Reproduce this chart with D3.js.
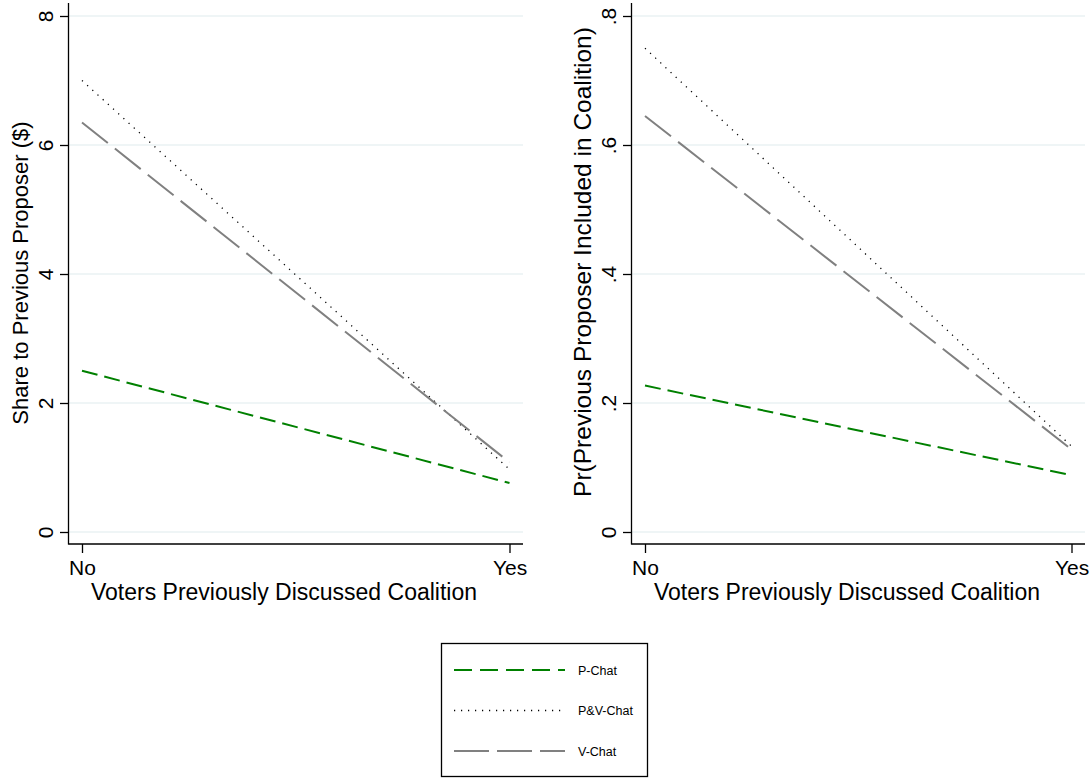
<!DOCTYPE html>
<html>
<head>
<meta charset="utf-8">
<script src="https://cdn.jsdelivr.net/npm/d3@7"></script>
<style>
  html, body { margin: 0; padding: 0; background: #fff; }
  svg { display: block; font-family: "Liberation Sans", Arial, Helvetica, sans-serif; }
</style>
</head>
<body>
<svg id="chart" width="1092" height="778"></svg>
<script>
// Categories on the x axis
const categories = ["No", "Yes"];

// Series names
const seriesNames = ["P-Chat", "P&V-Chat", "V-Chat"];

// Left panel: share to previous proposer ($)
const shareP  = [2.50, 0.76];
const sharePV = [7.00, 0.97];
const shareV  = [6.35, 1.08];

// Right panel: probability previous proposer is included
const probP  = [0.227, 0.088];
const probPV = [0.750, 0.133];
const probV  = [0.645, 0.128];

// Tick values and labels
const shareTicks = [0, 2, 4, 6, 8];
const shareTickLabels = ["0", "2", "4", "6", "8"];
const probTicks = [0, 0.2, 0.4, 0.6, 0.8];
const probTickLabels = ["0", ".2", ".4", ".6", ".8"];

const xTitle = "Voters Previously Discussed Coalition";
const leftTitle = "Share to Previous Proposer ($)";
const rightTitle = "Pr(Previous Proposer Included in Coalition)";

// Line styles per series
const styles = {
  "P-Chat":   { stroke: "#008000", width: 2,   dash: "16,7" },
  "P&V-Chat": { stroke: "#000000", width: 1.3, dash: "1.2,5.8" },
  "V-Chat":   { stroke: "#808080", width: 2,   dash: "33,9" }
};

const svg = d3.select("#chart");
const TICK_FS = 21;
const TITLE_FS = 23;

function panel(opts) {
  const g = svg.append("g");
  const x = d3.scalePoint().domain(categories).range([opts.x0 + 13, opts.x1 - 13.5]);
  const y = d3.scaleLinear().domain(opts.domain).range([532, 16]);

  // grid lines
  g.selectAll("line.grid").data(opts.ticks).join("line")
    .attr("x1", opts.x0).attr("x2", opts.x1)
    .attr("y1", d => y(d)).attr("y2", d => y(d))
    .attr("stroke", "#eaf2f3").attr("stroke-width", 1.5);

  // series lines
  const line = d3.line().x((d, i) => x(categories[i])).y(d => y(d));
  opts.series.forEach(([name, vals]) => {
    const s = styles[name];
    g.append("path").datum(vals)
      .attr("d", line)
      .attr("fill", "none")
      .attr("stroke", s.stroke)
      .attr("stroke-width", s.width)
      .attr("stroke-dasharray", s.dash);
  });

  // y axis
  const yAxis = d3.axisLeft(y).tickValues(opts.ticks).tickSize(9)
    .tickFormat((d, i) => opts.labels[i]);
  const ya = g.append("g").attr("transform", `translate(${opts.x0},0)`).call(yAxis);
  ya.select(".domain").attr("d", `M-0.5,3V544.5`).attr("stroke", "#000").attr("stroke-width", 1.3);
  ya.selectAll(".tick line").attr("stroke", "#000").attr("stroke-width", 1.3);
  ya.selectAll(".tick text")
    .attr("x", null).attr("dy", null)
    .attr("transform", "translate(-16,0) rotate(-90)")
    .attr("text-anchor", "middle")
    .attr("font-size", TICK_FS).attr("font-family", "Liberation Sans, Arial, sans-serif")
    .attr("fill", "#000");

  // x axis
  const xAxis = d3.axisBottom(x).tickSize(9);
  const xa = g.append("g").attr("transform", `translate(0,544)`).call(xAxis);
  xa.select(".domain").attr("d", `M${opts.x0 - 0.6},0H${opts.x1}`).attr("stroke", "#000").attr("stroke-width", 1.3);
  xa.selectAll(".tick line").attr("stroke", "#000").attr("stroke-width", 1.3);
  xa.selectAll(".tick text")
    .attr("y", 31).attr("dy", null)
    .attr("font-size", TICK_FS).attr("font-family", "Liberation Sans, Arial, sans-serif")
    .attr("fill", "#000");

  // titles
  g.append("text")
    .attr("x", opts.xTitleX)
    .attr("y", 600)
    .attr("text-anchor", "middle")
    .attr("font-size", TITLE_FS)
    .text(xTitle);

  g.append("text")
    .attr("transform", `translate(${opts.titleX},${opts.titleY}) rotate(-90)`)
    .attr("text-anchor", "middle")
    .attr("font-size", opts.titleFS)
    .text(opts.title);
}

panel({
  x0: 69, x1: 523, domain: [0, 8], ticks: shareTicks, labels: shareTickLabels,
  title: leftTitle, titleX: 28, titleY: 273, titleFS: 22, xTitleX: 284,
  series: [["P-Chat", shareP], ["P&V-Chat", sharePV], ["V-Chat", shareV]]
});

panel({
  x0: 632, x1: 1085, domain: [0, 0.8], ticks: probTicks, labels: probTickLabels,
  title: rightTitle, titleX: 591, titleY: 262, titleFS: 24.5, xTitleX: 847,
  series: [["P-Chat", probP], ["P&V-Chat", probPV], ["V-Chat", probV]]
});

// legend
const lg = svg.append("g");
lg.append("rect")
  .attr("x", 441.5).attr("y", 643.5).attr("width", 206).attr("height", 133)
  .attr("fill", "#fff").attr("stroke", "#000").attr("stroke-width", 1.3);

const ly = d3.scalePoint().domain(seriesNames).range([670, 751]);
seriesNames.forEach(name => {
  const s = styles[name];
  lg.append("line")
    .attr("x1", 454).attr("x2", 565)
    .attr("y1", ly(name)).attr("y2", ly(name))
    .attr("stroke", s.stroke)
    .attr("stroke-width", s.width)
    .attr("stroke-dasharray", name === "V-Chat" ? "35,8" : (name === "P-Chat" ? "18,8" : s.dash));
  lg.append("text")
    .attr("x", 578).attr("y", ly(name) + 4.5)
    .attr("font-size", 12.5)
    .text(name);
});
</script>
</body>
</html>
